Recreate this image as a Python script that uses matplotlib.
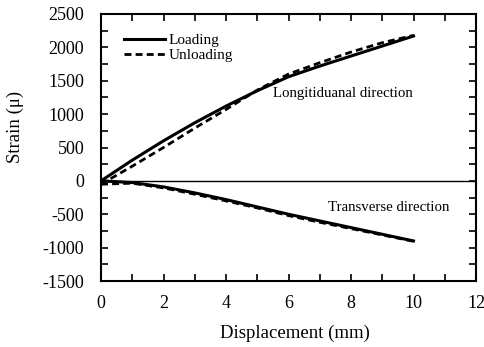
import matplotlib
matplotlib.use('Agg')
import matplotlib.pyplot as plt
from matplotlib.ticker import MultipleLocator

plt.rcParams['font.family'] = 'Liberation Serif'
plt.rcParams['axes.unicode_minus'] = False

# displacement (mm)
disp = [0, 1, 2, 3, 4, 5, 6, 7, 8, 9, 10]

# longitudinal strain
long_loading = [0, 310, 600, 870, 1120, 1350, 1560, 1720, 1870, 2020, 2170]
long_unloading = [-50, 220, 500, 790, 1070, 1360, 1600, 1770, 1930, 2070, 2180]

# transverse strain
trans_loading = [0, -25, -90, -180, -280, -390, -500, -600, -700, -800, -900]
trans_unloading = [-50, -35, -105, -200, -300, -405, -520, -620, -715, -810, -905]

fig = plt.figure(figsize=(4.84, 3.47), dpi=100)
ax = fig.add_axes([101/484, 1 - 281/347, 375/484, 267/347])

ax.plot(disp, long_loading, 'k-', lw=2.2, label='Loading')
ax.plot(disp, long_unloading, 'k--', lw=2, dashes=(2.5, 1.5), label='Unloading')
ax.plot(disp, trans_loading, 'k-', lw=2.2)
ax.plot(disp, trans_unloading, 'k--', lw=2, dashes=(2.5, 1.5))
ax.axhline(0, color='k', lw=1)

ax.set_xlim(0, 12)
ax.set_ylim(-1500, 2500)
ax.xaxis.set_major_locator(MultipleLocator(2))
ax.xaxis.set_minor_locator(MultipleLocator(1))
ax.yaxis.set_major_locator(MultipleLocator(500))
ax.yaxis.set_minor_locator(MultipleLocator(250))
ax.tick_params(which='both', direction='in', top=True, right=True, width=1.2, length=5, labelsize=13)
ax.tick_params(axis='x', pad=10)
ax.tick_params(axis='y', pad=12)
for s in ax.spines.values():
    s.set_linewidth(1.5)

ax.set_xlabel('Displacement (mm)', fontsize=13.5, va='center')
ax.xaxis.set_label_coords(0.517, -0.195)
ax.set_ylabel('Strain (\u03bc)', fontsize=13.5, va='center')
ax.yaxis.set_label_coords(-0.229, 0.577)

ax.text(7.75, 1310, 'Longitiduanal direction', ha='center', va='center', fontsize=10.7)
ax.text(9.2, -400, 'Transverse direction', ha='center', va='center', fontsize=10.7)

leg = ax.legend(loc='upper left', frameon=False, fontsize=11, handlelength=2.7,
                labelspacing=0.1, handletextpad=0.2, bbox_to_anchor=(0.045, 0.95),
                borderaxespad=0)

fig.savefig('out.png', dpi=100)
